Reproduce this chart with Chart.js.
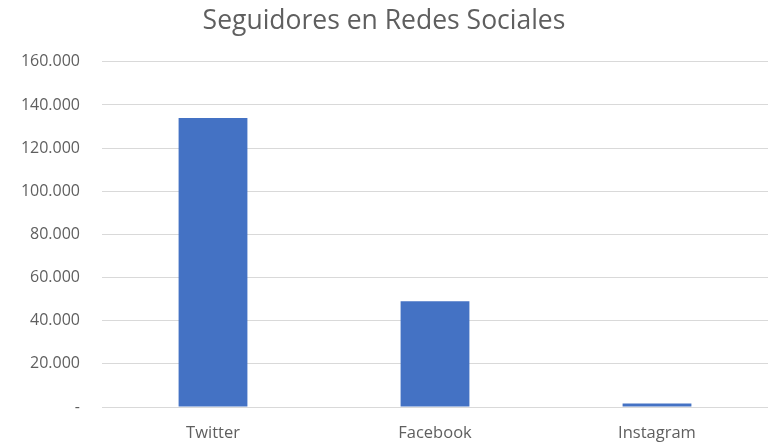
<!DOCTYPE html>
<html>
<head>
<meta charset="utf-8">
<script src="https://cdn.jsdelivr.net/npm/chart.js@4"></script>
<style>
  body { margin: 0; background: #fff; }
  #wrap { width: 772px; height: 445px; }
</style>
</head>
<body>
<div id="wrap"><canvas id="chart" width="772" height="445"></canvas></div>
<script>
// datos del gráfico
const categorias = ['Twitter', 'Facebook', 'Instagram'];
const seguidores = [134000, 49000, 1600];
const ejeMax = 160000;
const ejePaso = 20000;

const gris = '#5f5f5f';
const fuente = "'Open Sans', 'Noto Sans', sans-serif";

function formatoMiles(v) {
    if (v === 0) return '-';
    return v.toLocaleString('de-DE');
}

const ctx = document.getElementById('chart').getContext('2d');
new Chart(ctx, {
    type: 'bar',
    data: {
        labels: categorias,
        datasets: [{
            label: 'Seguidores',
            data: seguidores,
            backgroundColor: '#4472C4',
            barPercentage: 0.31,
            categoryPercentage: 1.0
        }]
    },
    options: {
        responsive: false,
        devicePixelRatio: 1,
        animation: false,
        layout: { padding: { left: 0, right: 4, top: 0, bottom: 0 } },
        plugins: {
            legend: { display: false },
            tooltip: { enabled: false },
            title: {
                display: true,
                text: 'Seguidores en Redes Sociales',
                color: gris,
                font: { family: fuente, size: 26.5, weight: 'normal' },
                padding: { top: 6, bottom: 24 }
            }
        },
        scales: {
            x: {
                afterFit: (s) => { s.height = 38; },
                grid: { display: false, drawTicks: false },
                border: { display: false },
                ticks: {
                    color: gris,
                    padding: 16,
                    font: { family: fuente, size: 16.5 }
                }
            },
            y: {
                min: 0,
                max: ejeMax,
                afterFit: (s) => { s.width = 102; },
                grid: { color: '#d9d9d9', lineWidth: 1, drawTicks: false },
                border: { display: false },
                ticks: {
                    stepSize: ejePaso,
                    color: gris,
                    padding: 22,
                    font: { family: fuente, size: 16 },
                    callback: (v) => formatoMiles(v)
                }
            }
        }
    }
});
</script>
</body>
</html>
